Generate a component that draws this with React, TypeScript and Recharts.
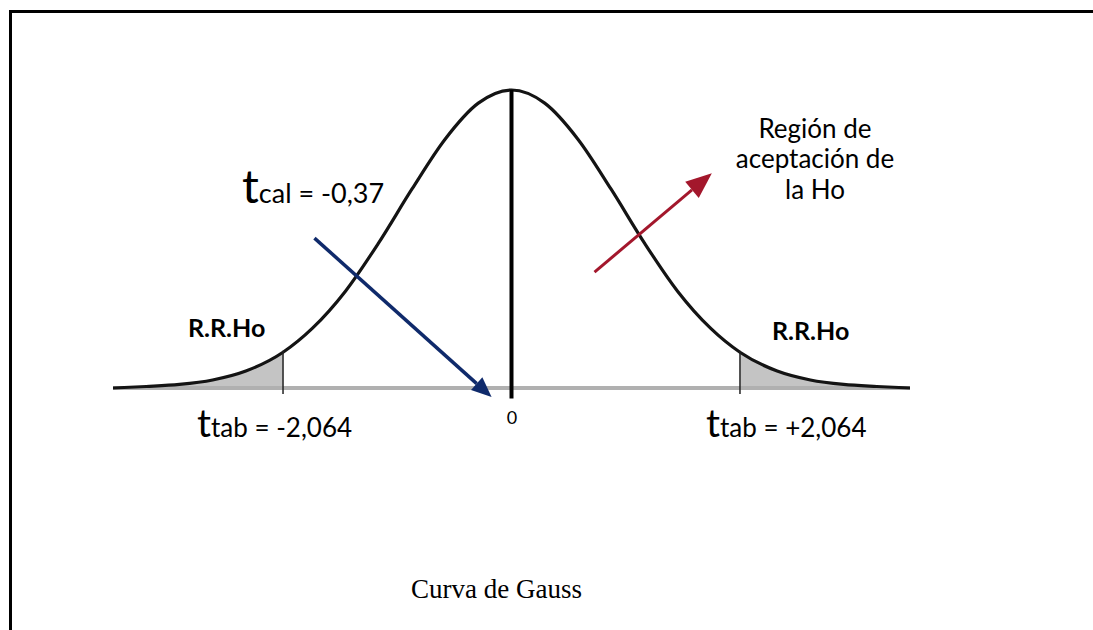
import React from 'react'
import { ComposedChart, Line, Area, XAxis, YAxis, ReferenceLine } from 'recharts'

// t values along the axis and the curve height (relative to the peak)
const tValues = [-3.6, -3.3, -3.0, -2.7, -2.4, -2.064, -1.8, -1.5, -1.2, -0.9, -0.6, -0.3, 0, 0.3, 0.6, 0.9, 1.2, 1.5, 1.8, 2.064, 2.4, 2.7, 3.0, 3.3, 3.6]
const density = [0.0, 0.005, 0.012, 0.027, 0.057, 0.12, 0.2, 0.325, 0.487, 0.667, 0.835, 0.956, 1.0, 0.956, 0.835, 0.667, 0.487, 0.325, 0.2, 0.12, 0.057, 0.027, 0.012, 0.005, 0.0]

const tTab = 2.064
const curveTop = 1.0

// annotation arrows, in chart (t, height) units
const calArrow = [{ x: -1.78, y: 0.503 }, { x: -0.18, y: -0.03 }]
const acceptArrow = [{ x: 0.75, y: 0.389 }, { x: 1.81, y: 0.721 }]

const chartData = tValues.map((t, i) => ({
  t,
  density: density[i],
  leftTail: t <= -tTab ? density[i] : null,
  rightTail: t >= tTab ? density[i] : null,
}))

const FONT = 'Lato, "Open Sans", sans-serif'

function arrowShape(color: string, width: number, headLen: number, headW: number) {
  return (props: any) => {
    const { x1, y1, x2, y2 } = props
    const ang = Math.atan2(y2 - y1, x2 - x1)
    const bx = x2 - headLen * Math.cos(ang)
    const by = y2 - headLen * Math.sin(ang)
    const px = (headW / 2) * Math.sin(ang)
    const py = (headW / 2) * Math.cos(ang)
    return (
      <g>
        <line x1={x1} y1={y1} x2={bx} y2={by} stroke={color} strokeWidth={width} />
        <polygon points={`${x2},${y2} ${bx + px},${by - py} ${bx - px},${by + py}`} fill={color} />
      </g>
    )
  }
}

export default function App() {
  return (
    <div style={{ position: 'absolute', left: 0, top: 0, width: 1093, height: 630, background: '#fff', overflow: 'hidden' }}>
      <div style={{ position: 'absolute', left: 9, top: 10, width: 1200, height: 800, borderTop: '3px solid #000', borderLeft: '3px solid #000' }} />
      <div style={{ position: 'absolute', left: 0, top: 0 }}>
        <ComposedChart width={1093} height={630} data={chartData} margin={{ top: 60.2, right: 183, bottom: 182.4, left: 113 }}>
          <XAxis type="number" dataKey="t" domain={[-3.6, 3.6]} hide allowDataOverflow />
          <YAxis type="number" domain={[-0.2, 1.1]} hide allowDataOverflow />
          <Area type="monotone" dataKey="leftTail" stroke="none" fill="#c4c4c4" fillOpacity={1} baseValue={0} isAnimationActive={false} />
          <Area type="monotone" dataKey="rightTail" stroke="none" fill="#c4c4c4" fillOpacity={1} baseValue={0} isAnimationActive={false} />
          <ReferenceLine segment={[{ x: -3.6, y: 0 }, { x: 3.6, y: 0 }]} stroke="#b0b0b0" strokeWidth={4} />
          <Line type="monotone" dataKey="density" stroke="#141414" strokeWidth={3.2} dot={false} isAnimationActive={false} />
          <ReferenceLine segment={[{ x: -tTab, y: -0.02 }, { x: -tTab, y: 0.125 }]} stroke="#222" strokeWidth={1.5} />
          <ReferenceLine segment={[{ x: tTab, y: -0.02 }, { x: tTab, y: 0.125 }]} stroke="#222" strokeWidth={1.5} />
          <ReferenceLine segment={[{ x: 0, y: -0.035 }, { x: 0, y: curveTop }]} stroke="#000" strokeWidth={4} />
          <ReferenceLine segment={calArrow} shape={arrowShape('#0f2a6b', 3.5, 20, 17)} />
          <ReferenceLine segment={acceptArrow} shape={arrowShape('#a3172c', 3, 26, 21)} />
        </ComposedChart>
      </div>
      <svg width={1093} height={630} style={{ position: 'absolute', left: 0, top: 0, pointerEvents: 'none' }}>
        <g fontFamily={FONT} fill="#000">
          <text x={242} y={203}>
            <tspan fontSize={47}>t</tspan>
            <tspan fontSize={27}>cal = -0,37</tspan>
          </text>
          <text x={197} y={437}>
            <tspan fontSize={39}>t</tspan>
            <tspan fontSize={26}>tab = -2,064</tspan>
          </text>
          <text x={706} y={437}>
            <tspan fontSize={39}>t</tspan>
            <tspan fontSize={26}>tab = +2,064</tspan>
          </text>
          <text x={512} y={424} fontSize={18} textAnchor="middle">0</text>
          <text x={188} y={337} fontSize={25} fontWeight={700}>R.R.Ho</text>
          <text x={772} y={340} fontSize={25} fontWeight={700}>R.R.Ho</text>
          <text x={815} y={138} fontSize={26} textAnchor="middle">Región de</text>
          <text x={815} y={168} fontSize={26} textAnchor="middle">aceptación de</text>
          <text x={815} y={199} fontSize={26} textAnchor="middle">la Ho</text>
        </g>
        <text x={411} y={598} fontFamily='"Liberation Serif", "Times New Roman", serif' fontSize={27}>Curva de Gauss</text>
      </svg>
    </div>
  )
}
